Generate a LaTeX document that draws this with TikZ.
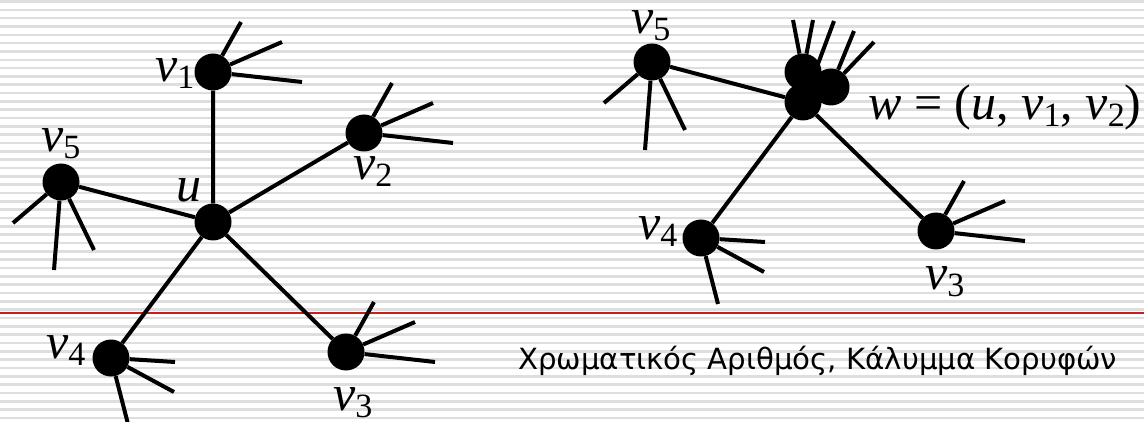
\documentclass[tikz,border=0pt]{standalone}
\usepackage{fontspec}
\setmainfont{Liberation Serif}
\newfontfamily\greekfont{DejaVu Sans}
\usepackage{graphicx}
\definecolor{stripe}{RGB}{222,222,222}
\definecolor{redline}{RGB}{200,30,30}
\newcommand\mainsz{\fontsize{50}{50}\selectfont}
\newcommand\subsz{\fontsize{34}{34}\selectfont}
\newcommand\vsub[1]{{\mainsz\itshape v}\raisebox{-7pt}{\subsz #1}}
\newcommand\fanup[1]{%
  \path (#1) ++(28,-50) coordinate (#1-a) (#1) ++(69,-30) coordinate (#1-b) (#1) ++(89,10) coordinate (#1-c);
  \draw[edge] (#1) -- (#1-a) (#1) -- (#1-b) (#1) -- (#1-c);}
\newcommand\fanleft[1]{%
  \path (#1) ++(-48,41) coordinate (#1-a) (#1) ++(-7,88) coordinate (#1-b) (#1) ++(33,68) coordinate (#1-c);
  \draw[edge] (#1) -- (#1-a) (#1) -- (#1-b) (#1) -- (#1-c);}
\newcommand\fandown[1]{%
  \path (#1) ++(64,4) coordinate (#1-a) (#1) ++(63,34) coordinate (#1-b) (#1) ++(17,66) coordinate (#1-c);
  \draw[edge] (#1) -- (#1-a) (#1) -- (#1-b) (#1) -- (#1-c);}
\begin{document}
\begin{tikzpicture}[x=1pt,y=-1pt,
  vert/.style={circle,fill=black,minimum size=37pt,inner sep=0pt},
  edge/.style={line width=4pt,black},
  lab/.style={inner sep=0pt,anchor=base west}]
\useasboundingbox (0,0) rectangle (1144,422);
\fill[white] (0,0) rectangle (1144,422);
% striped background
\foreach \k in {0,...,50} {
  \draw[stripe,line width=2.6pt] (0,{1.5+8.33*\k}) -- (1144,{1.5+8.33*\k});
}
\draw[redline,line width=1.2pt] (0,313) -- (1144,313);
% ---------- left graph ----------
\node[vert] (u)  at (213,222) {};
\node[vert] (v1) at (213,72) {};
\node[vert] (v2) at (364,133) {};
\node[vert] (v3) at (346,352) {};
\node[vert] (v4) at (111,358) {};
\node[vert] (v5) at (61,182) {};
\draw[edge] (u) -- (v1) (u) -- (v2) (u) -- (v3) (u) -- (v4) (u) -- (v5);
\fanup{v1}
\fanup{v2}
\fanup{v3}
\fanleft{v5}
\fandown{v4}
\node[lab] (l1) at (155,82) {\vsub{1}};
\node[lab] (l2) at (353,180) {\vsub{2}};
\node[lab] (l3) at (333,410) {\vsub{3}};
\node[lab] (l4) at (46,358) {\vsub{4}};
\node[lab] (l5) at (41,152) {\vsub{5}};
\node[lab] (lu) at (176,202) {\mainsz\itshape u};
% ---------- right graph ----------
\node[vert] (wa) at (803,72) {};
\node[vert] (wb) at (831,87) {};
\node[vert] (wc) at (803,102) {};
\node[vert] (r3) at (936,231) {};
\node[vert] (r4) at (701,238) {};
\node[vert] (r5) at (652,62) {};
\draw[edge] (wc) -- (r3) (wc) -- (r4) (wc) -- (r5);
\coordinate (wt1) at (793,20);
\coordinate (wt2) at (813,20);
\coordinate (wt3) at (834,21);
\coordinate (wt4) at (854,31);
\coordinate (wt5) at (874,42);
\coordinate (wh) at (812,80);
\draw[edge] (wa) -- (wt1) (wa) -- (wt2) (wh) -- (wt3) (wb) -- (wt4) (wb) -- (wt5);
\fanup{r3}
\fanleft{r5}
\fandown{r4}
\node[lab] (lr3) at (925,290) {\vsub{3}};
\node[lab] (lr4) at (638,240) {\vsub{4}};
\node[lab] (lr5) at (631,34) {\vsub{5}};
\node[lab] (lw) at (868,120) {\mainsz\itshape w\/ \upshape = (\itshape u\upshape, \vsub{1}\mainsz\upshape, \vsub{2}\mainsz\upshape)};
% ---------- caption ----------
\node[lab] (cap) at (518,370) {\resizebox{599pt}{!}{\greekfont\fontsize{30}{30}\selectfont Χρωματικός Αριθμός, Κάλυμμα Κορυφών}};
\end{tikzpicture}
\end{document}
